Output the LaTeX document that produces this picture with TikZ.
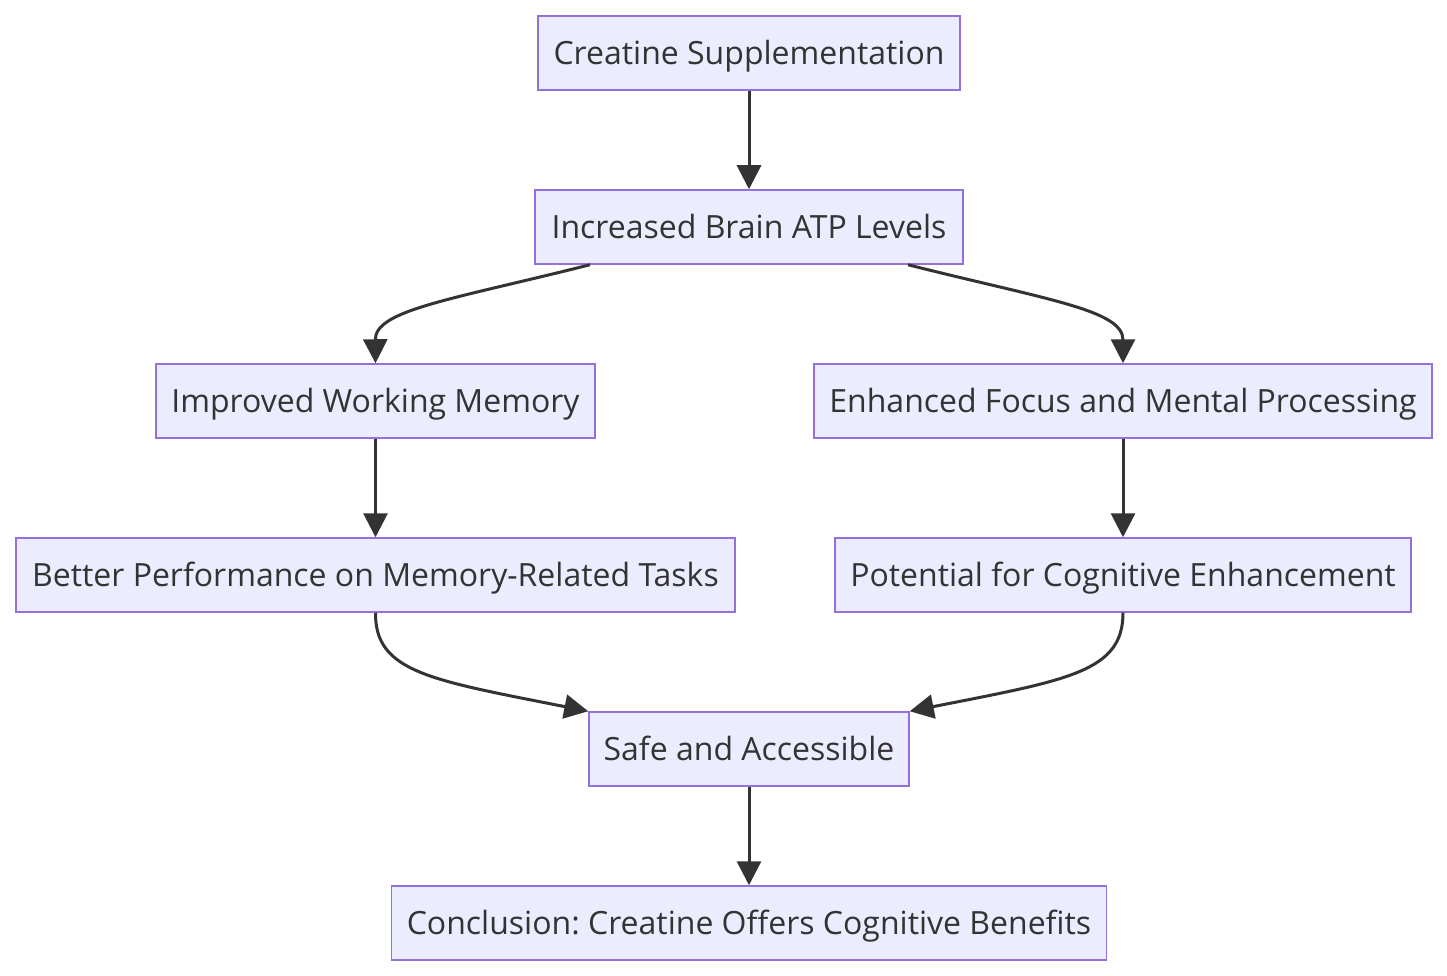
\documentclass[tikz,border=0pt]{standalone}
\usepackage{fontspec}
\setmainfont{Open Sans}
\usetikzlibrary{arrows.meta}
\frenchspacing

\definecolor{boxfill}{HTML}{ECECFF}
\definecolor{boxline}{HTML}{9370DB}
\definecolor{arrowgray}{HTML}{333333}

\tikzset{
  box/.style={draw=boxline, fill=boxfill, line width=1.5pt, minimum height=74pt, inner xsep=0pt, text height=22.8pt, text depth=0pt, text=arrowgray, font=\fontsize{32}{38}\selectfont},
  flow/.style={draw=arrowgray, line width=3pt, -{Triangle[length=24pt,width=24pt]}}
}

\begin{document}
\begin{tikzpicture}[x=1pt,y=1pt,yscale=-1]
\useasboundingbox (0,0) rectangle (1447,976);
%Shape: Rectangle [id:cs]
\node[box, minimum width=422pt] (cs) at (749,53) {Creatine Supplementation};
%Shape: Rectangle [id:atp]
\node[box, minimum width=428pt] (atp) at (749,227) {Increased Brain ATP Levels};
%Shape: Rectangle [id:wm]
\node[box, minimum width=439pt] (wm) at (375.5,401) {Improved Working Memory};
%Shape: Rectangle [id:fp]
\node[box, minimum width=618pt] (fp) at (1123,401) {Enhanced Focus and Mental Processing};
%Shape: Rectangle [id:mt]
\node[box, minimum width=719pt] (mt) at (375.5,575) {Better Performance on Memory-Related Tasks};
%Shape: Rectangle [id:ce]
\node[box, minimum width=576pt] (ce) at (1123,575) {Potential for Cognitive Enhancement};
%Shape: Rectangle [id:sa]
\node[box, minimum width=320pt] (sa) at (749,749) {Safe and Accessible};
%Shape: Rectangle [id:cc]
\node[box, minimum width=715pt] (cc) at (749,923) {Conclusion: Creatine Offers Cognitive Benefits};
%Straight Lines
\draw[flow] (cs) -- (atp);
\draw[flow] (wm) -- (mt);
\draw[flow] (fp) -- (ce);
\draw[flow] (sa) -- (cc);
%Curve Lines
\draw[flow] ([xshift=-159pt]atp.south) .. controls (450,300) and (375,310) .. (wm.north);
\draw[flow] ([xshift=159pt]atp.south) .. controls (1048,300) and (1123,310) .. (fp.north);
\draw[flow] (mt.south) .. controls (375,672) and (430,680) .. (sa.north west);
\draw[flow] (ce.south) .. controls (1123,672) and (1068,680) .. (sa.north east);
\end{tikzpicture}
\end{document}
